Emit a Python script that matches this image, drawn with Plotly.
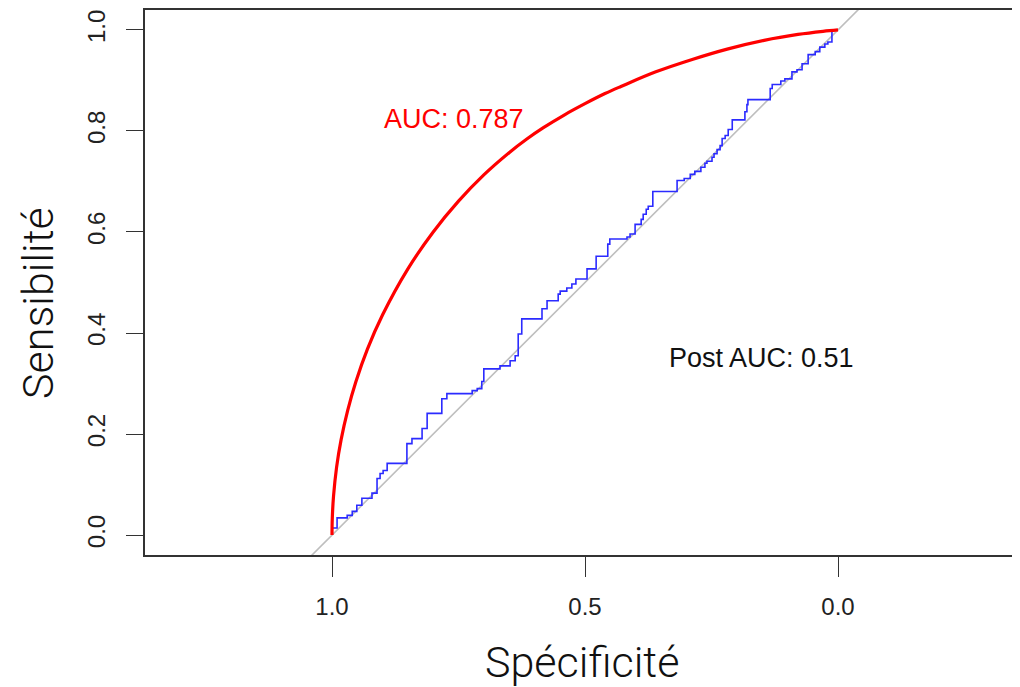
import plotly.graph_objects as go

# Smoothed ROC curve (red): specificity, sensitivity
smooth_spec = [1.000, 0.9995, 0.997, 0.991, 0.982, 0.969, 0.953, 0.930, 0.900, 0.850,
               0.800, 0.750, 0.700, 0.650, 0.615, 0.583, 0.5395, 0.500, 0.4605, 0.429,
               0.360, 0.2866, 0.219, 0.146, 0.079, 0.0296, 0.000]
smooth_sens = [0.000, 0.032, 0.077, 0.134, 0.189, 0.247, 0.303, 0.368, 0.436, 0.527,
               0.600, 0.661, 0.713, 0.757, 0.784, 0.806, 0.8325, 0.854, 0.874, 0.888,
               0.917, 0.942, 0.962, 0.9794, 0.9911, 0.9972, 1.000]

# Empirical "post" ROC curve (blue step curve), step corners
post_spec = [1.000, 1.000, 0.990, 0.970, 0.960, 0.951, 0.941, 0.921, 0.911, 0.905,
             0.899, 0.891, 0.852, 0.842, 0.822, 0.812, 0.783, 0.773, 0.723, 0.713,
             0.704, 0.700, 0.668, 0.648, 0.638, 0.632, 0.625, 0.585, 0.575, 0.553,
             0.549, 0.536, 0.526, 0.518, 0.496, 0.478, 0.455, 0.451, 0.417, 0.411,
             0.401, 0.389, 0.385, 0.379, 0.375, 0.366, 0.318, 0.304, 0.292, 0.283,
             0.271, 0.263, 0.259, 0.249, 0.245, 0.239, 0.233, 0.229, 0.223, 0.217,
             0.209, 0.184, 0.180, 0.178, 0.134, 0.130, 0.113, 0.105, 0.091, 0.081,
             0.071, 0.059, 0.045, 0.036, 0.026, 0.020, 0.012, 0.000]
post_sens = [0.000, 0.014, 0.034, 0.039, 0.047, 0.059, 0.073, 0.083, 0.112, 0.122,
             0.128, 0.142, 0.181, 0.191, 0.211, 0.241, 0.270, 0.280, 0.286, 0.290,
             0.304, 0.329, 0.335, 0.345, 0.355, 0.398, 0.428, 0.448, 0.464, 0.477,
             0.483, 0.489, 0.497, 0.507, 0.527, 0.552, 0.576, 0.586, 0.590, 0.596,
             0.615, 0.625, 0.635, 0.645, 0.651, 0.680, 0.702, 0.706, 0.714, 0.720,
             0.728, 0.736, 0.740, 0.748, 0.755, 0.763, 0.771, 0.785, 0.791, 0.803,
             0.822, 0.838, 0.852, 0.862, 0.884, 0.892, 0.899, 0.903, 0.917, 0.921,
             0.933, 0.951, 0.957, 0.966, 0.972, 0.976, 1.000, 1.000]

# Chance diagonal
diag_spec = [1.05, -0.05]
diag_sens = [-0.05, 1.05]

x_ticks = [1.0, 0.5, 0.0]
x_ticktext = ["1.0", "0.5", "0.0"]
y_ticks = [0.0, 0.2, 0.4, 0.6, 0.8, 1.0]
y_ticktext = ["0.0", "0.2", "0.4", "0.6", "0.8", "1.0"]

auc_label = "AUC: 0.787"
post_label = "Post AUC: 0.51"

fig = go.Figure()
fig.add_trace(go.Scatter(x=diag_spec, y=diag_sens, mode="lines",
                         line=dict(color="#BEBEBE", width=1.6), hoverinfo="skip"))
fig.add_trace(go.Scatter(x=post_spec, y=post_sens, mode="lines",
                         line=dict(color="#2b2bff", width=1.6, shape="hv")))
fig.add_trace(go.Scatter(x=smooth_spec, y=smooth_sens, mode="lines",
                         line=dict(color="#FF0000", width=3.2, shape="spline", smoothing=1.0)))

tick_font = dict(family="Liberation Sans, Arial, sans-serif", size=24, color="#222222")
title_font = dict(family="Roboto, Liberation Sans, sans-serif", size=43, color="#111111", weight=300)

# The page body adds an 8px offset, so the figure is 8px smaller than the window
fig.update_layout(
    width=1012, height=679,
    margin=dict(l=137, r=0, t=0, b=132),
    paper_bgcolor="white", plot_bgcolor="white",
    showlegend=False,
    xaxis=dict(range=[1.3696, -0.3597], tickvals=x_ticks, ticktext=x_ticktext,
               ticks="outside", ticklen=20, tickwidth=1.2, tickcolor="#333333",
               showline=True, linecolor="#333333", linewidth=1.5, mirror=True,
               showgrid=False, zeroline=False, tickfont=tick_font, ticklabelstandoff=9),
    yaxis=dict(range=[-0.0394, 1.0394], tickvals=y_ticks, ticktext=y_ticktext,
               tickangle=-90, ticks="outside", ticklen=17, tickwidth=1.2, tickcolor="#333333",
               showline=True, linecolor="#333333", linewidth=1.5, mirror=False,
               showgrid=False, zeroline=False, tickfont=tick_font, ticklabelstandoff=12),
    annotations=[
        dict(x=0.759, y=0.824, xref="x", yref="y", text=auc_label, showarrow=False,
             font=dict(family="Liberation Sans, Arial, sans-serif", size=27, color="#FF0000")),
        dict(x=0.152, y=0.351, xref="x", yref="y", text=post_label, showarrow=False,
             font=dict(family="Liberation Sans, Arial, sans-serif", size=27, color="#111111")),
        dict(x=0.4994, y=-0.1956, xref="paper", yref="paper", text="Spécificité",
             showarrow=False, xanchor="center", yanchor="middle", font=title_font),
        dict(x=-0.1223, y=0.4625, xref="paper", yref="paper", text="Sensibilité",
             showarrow=False, xanchor="center", yanchor="middle", textangle=-90, font=title_font),
    ],
)

fig.write_html("out.html")
